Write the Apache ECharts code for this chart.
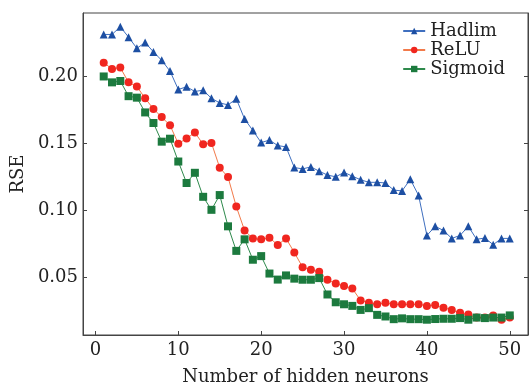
<!DOCTYPE html>
<html>
<head>
<meta charset="utf-8">
<script src="https://cdn.jsdelivr.net/npm/echarts@6/dist/echarts.min.js"></script>
<style>
html, body { margin: 0; padding: 0; background: #fff; }
#chart { width: 530px; height: 391px; }
</style>
</head>
<body>
<div id="chart"></div>
<script>
// 隐层神经元个数
var neurons = [];
for (var n = 1; n <= 50; n++) { neurons.push(n); }

var hadlim = [0.231, 0.231, 0.2367, 0.229, 0.2207, 0.225, 0.218, 0.2117, 0.2037, 0.190,
    0.192, 0.1885, 0.1895, 0.1834, 0.180, 0.1785, 0.183, 0.168, 0.1594, 0.1504,
    0.1523, 0.1482, 0.1472, 0.1318, 0.1308, 0.1323, 0.1291, 0.1262, 0.1249, 0.1282,
    0.1254, 0.1227, 0.1208, 0.1208, 0.1203, 0.115, 0.1144, 0.123, 0.111, 0.0812,
    0.088, 0.0849, 0.079, 0.0812, 0.088, 0.0783, 0.0793, 0.0743, 0.079, 0.079];

var relu = [0.210, 0.2053, 0.2063, 0.1953, 0.1922, 0.1834, 0.1755, 0.1694, 0.1633, 0.1496,
    0.1535, 0.1579, 0.1491, 0.1501, 0.1317, 0.1247, 0.1027, 0.0849, 0.0789, 0.0783,
    0.0795, 0.0741, 0.079, 0.0685, 0.0575, 0.0556, 0.0541, 0.0482, 0.0453, 0.0436,
    0.0416, 0.0328, 0.0311, 0.0299, 0.0311, 0.0299, 0.0299, 0.0299, 0.0299, 0.0287,
    0.0294, 0.0274, 0.0257, 0.0235, 0.0223, 0.020, 0.020, 0.0216, 0.0184, 0.020];

var sigmoid = [0.1997, 0.1953, 0.1963, 0.185, 0.1839, 0.1729, 0.165, 0.1511, 0.1533, 0.1363,
    0.1203, 0.1279, 0.110, 0.1003, 0.1113, 0.088, 0.0697, 0.0783, 0.0631, 0.0658,
    0.0528, 0.0483, 0.0514, 0.049, 0.0482, 0.0482, 0.0494, 0.0372, 0.0314, 0.0299,
    0.0287, 0.0257, 0.027, 0.022, 0.0208, 0.0188, 0.0194, 0.0188, 0.0188, 0.0184,
    0.0189, 0.0191, 0.0191, 0.0196, 0.0184, 0.020, 0.0196, 0.020, 0.020, 0.0216];

var xTicks = [0, 10, 20, 30, 40, 50];
var yTicks = [0.05, 0.10, 0.15, 0.20];

var FONT = 'DejaVu Serif';

function pairs(ys) {
    var out = [];
    for (var i = 0; i < ys.length; i++) { out.push([neurons[i], ys[i]]); }
    return out;
}

var myChart = echarts.init(document.getElementById('chart'));

var option = {
    animation: false,
    backgroundColor: '#fff',
    textStyle: { fontFamily: FONT },
    grid: {
        left: 83, right: 2, top: 13, bottom: 50,
        show: true, borderColor: '#444', borderWidth: 1
    },
    legend: {
        right: 20, top: 17,
        orient: 'vertical',
        itemGap: 1,
        itemWidth: 22, itemHeight: 8,
        textStyle: { fontFamily: FONT, fontSize: 18, color: '#222' },
        data: ['Hadlim', 'ReLU', 'Sigmoid']
    },
    xAxis: {
        type: 'value',
        min: -1.5, max: 52.2,
        name: 'Number of hidden neurons',
        nameLocation: 'middle',
        nameGap: 33,
        nameTextStyle: { fontFamily: FONT, fontSize: 18, color: '#222' },
        splitLine: { show: false },
        axisLine: { onZero: false, lineStyle: { color: '#444', width: 1 } },
        axisTick: { inside: true, length: 4, lineStyle: { color: '#444' }, customValues: xTicks },
        axisLabel: { fontFamily: FONT, fontSize: 18, color: '#222', margin: 6, customValues: xTicks }
    },
    yAxis: [{
        type: 'value',
        min: 0.007, max: 0.247,
        name: 'RSE',
        nameLocation: 'middle',
        nameGap: 48,
        nameRotate: 90,
        nameTextStyle: { fontFamily: FONT, fontSize: 18, color: '#222' },
        splitLine: { show: false },
        axisLine: { show: true, onZero: false, lineStyle: { color: '#444', width: 1 } },
        axisTick: { inside: true, length: 4, lineStyle: { color: '#444' }, customValues: yTicks },
        axisLabel: {
            fontFamily: FONT, fontSize: 18, color: '#222', margin: 5, customValues: yTicks,
            formatter: function (v) { return v.toFixed(2); }
        }
    }, {
        type: 'value',
        position: 'right',
        min: 0.007, max: 0.247,
        splitLine: { show: false },
        axisLine: { show: true, onZero: false, lineStyle: { color: '#444', width: 1 } },
        axisTick: { inside: true, length: 4, lineStyle: { color: '#444' }, customValues: yTicks },
        axisLabel: { show: false }
    }],
    series: [{
        name: 'Hadlim',
        type: 'line',
        data: pairs(hadlim),
        symbol: 'triangle',
        symbolSize: 8,
        lineStyle: { color: '#3f6fbf', width: 1 },
        itemStyle: { color: '#1d4fa3' }
    }, {
        name: 'ReLU',
        type: 'line',
        data: pairs(relu),
        symbol: 'circle',
        symbolSize: 8,
        lineStyle: { color: '#f27a4a', width: 1 },
        itemStyle: { color: '#f0261f' }
    }, {
        name: 'Sigmoid',
        type: 'line',
        data: pairs(sigmoid),
        symbol: 'rect',
        symbolSize: 8,
        lineStyle: { color: '#2e8a4c', width: 1 },
        itemStyle: { color: '#1c7a3e' }
    }]
};
myChart.setOption(option);
</script>
</body>
</html>
